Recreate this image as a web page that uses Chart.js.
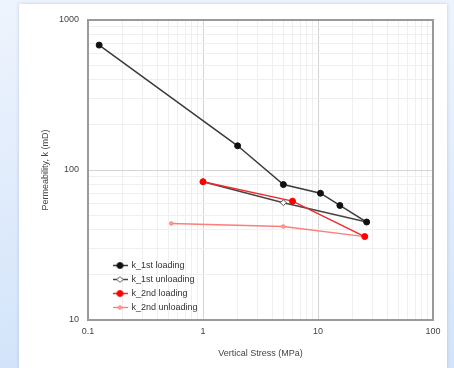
<!DOCTYPE html>
<html>
<head>
<meta charset="utf-8">
<script src="https://cdn.jsdelivr.net/npm/chart.js@4"></script>
<style>
  body { margin: 0; width: 454px; height: 368px; overflow: hidden;
         background: linear-gradient(#eef4fd, #d3e4fa); position: relative; }
  #panel { position: absolute; left: 19px; top: 4px; width: 428px; height: 364px;
           background: #fff; box-shadow: 0 0 3px rgba(140, 165, 200, 0.5); }
  #chart { position: absolute; left: 0; top: 0; }
</style>
</head>
<body>
<div id="panel"></div>
<canvas id="chart" width="454" height="368"></canvas>
<script>
'use strict';

// values
let load1X = [0.125, 2, 5, 10.5, 15.5, 26.5];
let load1Y = [680, 145, 80, 70, 58, 45];
let unload1X = [26.5, 5, 1];
let unload1Y = [45, 60.5, 83.5];
let load2X = [1, 6, 25.5];
let load2Y = [83.5, 62, 36];
let unload2X = [25.5, 5, 0.53];
let unload2Y = [36, 42, 44];

let seriesNames = ['k_1st loading', 'k_1st unloading', 'k_2nd loading', 'k_2nd unloading'];
let xTickLabels = [0.1, 1, 10, 100];
let yTickLabels = [10, 100, 1000];

let fontFam = '"Liberation Sans", Arial, sans-serif';

function pts(xs, ys) {
    let out = [];
    for (let i = 0; i < xs.length; i++) {
        out.push({ x: xs[i], y: ys[i] });
    }
    return out;
}

// log grid: 1..9 in each decade
function gridValues(labels) {
    let vals = [];
    for (let i = 0; i < labels.length - 1; i++) {
        for (let m = 1; m < 10; m++) vals.push(labels[i] * m);
    }
    vals.push(labels[labels.length - 1]);
    return vals;
}

function isMajor(v, labels) {
    return labels.some(l => Math.abs(l - v) < l * 1e-6);
}

let styles = [
    { line: '#3a3a3a', fill: '#111', edge: '#111', shape: 'circle', r: 3, w: 1.5 },
    { line: '#454545', fill: '#fff', edge: '#555', shape: 'rectRot', r: 3, w: 1.5 },
    { line: '#ee2a2a', fill: '#ff0000', edge: '#ff0000', shape: 'circle', r: 3, w: 1.5 },
    { line: '#ff7c7c', fill: '#ff9a9a', edge: '#ff8080', shape: 'circle', r: 1.8, w: 1.3 }
];

// little line+marker picture for the legend
function legendIcon(st) {
    let c = document.createElement('canvas');
    c.width = 15; c.height = 9;
    let g = c.getContext('2d');
    g.strokeStyle = st.line;
    g.lineWidth = st.w;
    g.beginPath(); g.moveTo(0, 4.5); g.lineTo(15, 4.5); g.stroke();
    g.fillStyle = st.fill; g.strokeStyle = st.edge; g.lineWidth = 1;
    g.beginPath();
    if (st.shape === 'rectRot') {
        g.moveTo(7.5, 1.5); g.lineTo(10.5, 4.5); g.lineTo(7.5, 7.5); g.lineTo(4.5, 4.5); g.closePath();
    } else {
        g.arc(7.5, 4.5, st.r, 0, Math.PI * 2);
    }
    g.fill(); g.stroke();
    return c;
}

let allData = [pts(load1X, load1Y), pts(unload1X, unload1Y), pts(load2X, load2Y), pts(unload2X, unload2Y)];
let datasets = [];
for (let i = 0; i < seriesNames.length; i++) {
    let st = styles[i];
    datasets.push({
        label: seriesNames[i],
        data: allData[i],
        showLine: true,
        borderColor: st.line,
        borderWidth: st.w,
        pointStyle: st.shape,
        pointRadius: st.r,
        pointBackgroundColor: st.fill,
        pointBorderColor: st.edge,
        pointBorderWidth: 1,
        order: [1, 2, 0, 3][i]
    });
}

let boxPlugin = {
    id: 'plotBox',
    afterLayout(chart) {
        // legend sits low-left inside the plot
        let lg = chart.legend;
        lg.left += 20; lg.right += 20;
        lg.top += 17; lg.bottom += 17;
    },
    beforeDatasetsDraw(chart) {
        let a = chart.chartArea, c = chart.ctx;
        c.save();
        c.strokeStyle = '#9a9a9a';
        c.lineWidth = 2;
        c.strokeRect(a.left, a.top, a.right - a.left, a.bottom - a.top);
        c.restore();
    }
};

let xGrid = gridValues(xTickLabels);
let yGrid = gridValues(yTickLabels);

new Chart(document.getElementById('chart').getContext('2d'), {
    type: 'scatter',
    data: { datasets: datasets },
    plugins: [boxPlugin],
    options: {
        responsive: false,
        animation: false,
        layout: { padding: { left: 0, top: 20, right: 21, bottom: 0 } },
        plugins: {
            tooltip: { enabled: false },
            legend: {
                position: 'chartArea',
                align: 'end',
                labels: {
                    usePointStyle: true,
                    pointStyleWidth: 14,
                    padding: 5,
                    color: '#333',
                    font: { family: fontFam, size: 9 },
                    generateLabels(chart) {
                        return chart.data.datasets.map((ds, i) => ({
                            text: ds.label,
                            pointStyle: legendIcon(styles[i]),
                            fontColor: '#333',
                            lineWidth: 0,
                            strokeStyle: 'transparent',
                            fillStyle: 'transparent',
                            datasetIndex: i,
                            hidden: false
                        }));
                    }
                }
            }
        },
        scales: {
            x: {
                type: 'logarithmic',
                min: 0.1,
                max: 100,
                afterFit(s) { s.height = 48; },
                afterBuildTicks(s) { s.ticks = xGrid.map(v => ({ value: v })); },
                border: { display: false },
                grid: {
                    drawTicks: false,
                    color: c => isMajor(c.tick.value, xTickLabels) ? '#d4d4d4' : '#efefef',
                    lineWidth: 1
                },
                ticks: {
                    autoSkip: false,
                    maxRotation: 0,
                    padding: 6,
                    color: '#444',
                    font: { family: fontFam, size: 9 },
                    callback: v => isMajor(v, xTickLabels) ? String(+v.toPrecision(3)) : ''
                },
                title: {
                    display: true,
                    text: 'Vertical Stress (MPa)',
                    color: '#444',
                    font: { family: fontFam, size: 9 },
                    padding: { top: 0, bottom: 9 }
                }
            },
            y: {
                type: 'logarithmic',
                min: 10,
                max: 1000,
                afterFit(s) { s.width = 88; },
                afterBuildTicks(s) { s.ticks = yGrid.map(v => ({ value: v })); },
                border: { display: false },
                grid: {
                    drawTicks: false,
                    color: c => isMajor(c.tick.value, yTickLabels) ? '#d4d4d4' : '#efefef',
                    lineWidth: 1
                },
                ticks: {
                    autoSkip: false,
                    padding: 9,
                    color: '#444',
                    font: { family: fontFam, size: 9 },
                    callback: v => isMajor(v, yTickLabels) ? String(v) : ''
                },
                title: {
                    display: true,
                    text: 'Permeability, k (mD)',
                    color: '#444',
                    font: { family: fontFam, size: 9 },
                    padding: { top: 40, bottom: 0 }
                }
            }
        }
    }
});
</script>
</body>
</html>
